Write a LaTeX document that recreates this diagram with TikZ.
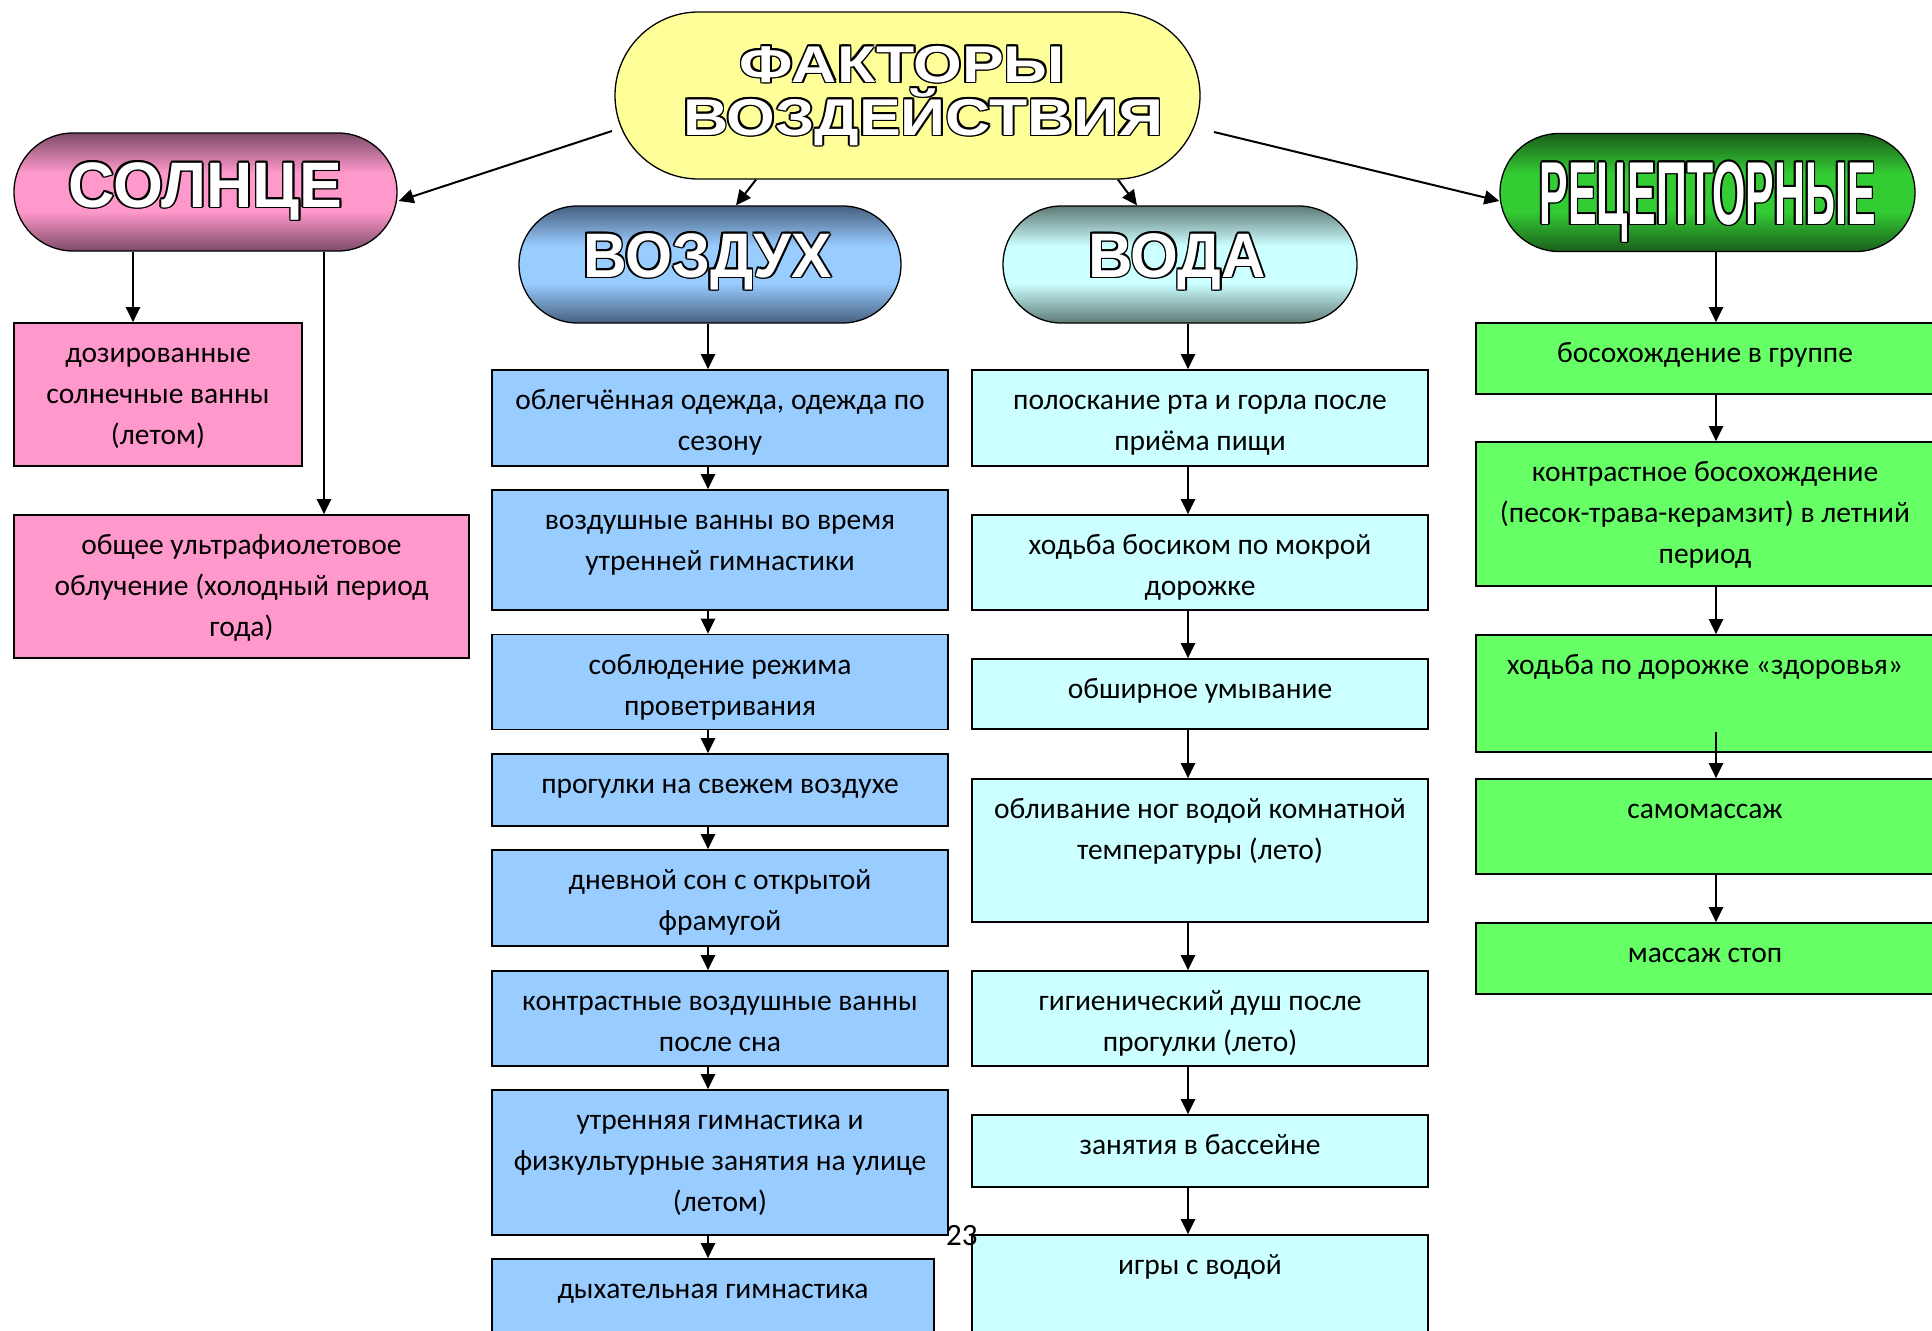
\documentclass[tikz,border=0pt]{standalone}
\usepackage{fontspec}
\usepackage{graphicx}
\setmainfont{Carlito}
\newfontfamily\hfont{Liberation Sans}
\usetikzlibrary{shapes.misc,arrows.meta,calc}

\definecolor{sunD}{HTML}{7E4B69}
\definecolor{sunL}{HTML}{FF99CC}
\definecolor{airD}{HTML}{46607F}
\definecolor{airL}{HTML}{99CCFF}
\definecolor{watD}{HTML}{5E7B77}
\definecolor{watL}{HTML}{CCFFFF}
\definecolor{recD}{HTML}{1B5E1B}
\definecolor{recL}{HTML}{33CC33}
\definecolor{titleC}{HTML}{FFFF99}
\definecolor{pinkB}{HTML}{FF99CC}
\definecolor{blueB}{HTML}{99CCFF}
\definecolor{cyanB}{HTML}{CCFFFF}
\definecolor{greenB}{HTML}{66FF66}

\pgfdeclareverticalshading{sunsh}{100bp}{color(0bp)=(sunD); color(25bp)=(sunD); color(42bp)=(sunL); color(58bp)=(sunL); color(75bp)=(sunD); color(100bp)=(sunD)}
\pgfdeclareverticalshading{airsh}{100bp}{color(0bp)=(airD); color(25bp)=(airD); color(42bp)=(airL); color(58bp)=(airL); color(75bp)=(airD); color(100bp)=(airD)}
\pgfdeclareverticalshading{watsh}{100bp}{color(0bp)=(watD); color(25bp)=(watD); color(42bp)=(watL); color(58bp)=(watL); color(75bp)=(watD); color(100bp)=(watD)}
\pgfdeclareverticalshading{recsh}{100bp}{color(0bp)=(recD); color(25bp)=(recD); color(42bp)=(recL); color(58bp)=(recL); color(75bp)=(recD); color(100bp)=(recD)}

\newcommand\olcp[3]{\rlap{\kern#1\raisebox{#2}{#3}}}
\newcommand\olt[1]{{\color{black}\olcp{1.8pt}{0pt}{#1}\olcp{-1.8pt}{0pt}{#1}\olcp{0pt}{1.8pt}{#1}\olcp{0pt}{-1.8pt}{#1}\olcp{1.3pt}{1.3pt}{#1}\olcp{-1.3pt}{1.3pt}{#1}\olcp{1.3pt}{-1.3pt}{#1}\olcp{-1.3pt}{-1.3pt}{#1}}\textcolor{white}{#1}}
\newcommand\hdr[3]{\olt{\resizebox{#1}{#2}{\raisebox{0pt}[0.716em][0pt]{#3}}}}
\newcommand\tb[1]{\parbox[t]{600pt}{\centering\fontsize{29.5}{41}\selectfont #1}}

\begin{document}
\begin{tikzpicture}[x=1pt,y=-1pt,
  hshape/.style={rounded rectangle, draw=black, line width=1.3pt, inner sep=0pt},
  bx/.style={rectangle, draw=black, line width=1.6pt, inner sep=0pt, minimum width=456pt},
  sunbox/.style={bx, fill=pinkB},
  airbox/.style={bx, fill=blueB},
  watbox/.style={bx, fill=cyanB},
  recbox/.style={bx, fill=greenB, minimum width=458pt},
  txt/.style={anchor=base, inner sep=0pt},
  htxt/.style={anchor=base, inner sep=0pt, font=\hfont\bfseries\fontsize{60}{60}\selectfont},
  arr/.style={line width=2pt, -{Triangle[length=15pt,width=14pt]}}
]
\useasboundingbox (0,0) rectangle (1932,1330);
\fill[white] (0,0) rectangle (1932,1330);

% headers
\node[hshape, fill=titleC, minimum width=585pt, minimum height=167pt] (title) at (907.5,95.5) {};
\node[htxt] (t1) at ($(title.center)+(-5,-13.5)$) {\hdr{325pt}{37pt}{ФАКТОРЫ}};
\node[htxt] (t2) at ($(title.center)+(15.5,39.5)$) {\hdr{480pt}{37pt}{ВОЗДЕЙСТВИЯ}};

\node[hshape, shading=sunsh, minimum width=383pt, minimum height=118pt] (sun) at (205.5,192) {};
\node[htxt] (sunt) at ($(sun.center)+(0,15)$) {\hdr{274pt}{46pt}{СОЛНЦЕ}};

\node[hshape, shading=airsh, minimum width=382pt, minimum height=117pt] (air) at (710,264.5) {};
\node[htxt] (airt) at ($(air.center)+(-2.5,12.5)$) {\hdr{249pt}{45pt}{ВОЗДУХ}};

\node[hshape, shading=watsh, minimum width=354pt, minimum height=117pt] (wat) at (1180,264.5) {};
\node[htxt] (watt) at ($(wat.center)+(-3,12.5)$) {\hdr{178pt}{45pt}{ВОДА}};

\node[hshape, shading=recsh, minimum width=415pt, minimum height=118pt] (rec) at (1707.5,192.5) {};
\node[htxt] (rect) at ($(rec.center)+(0,31.5)$) {\hdr{336pt}{64pt}{РЕЦЕПТОРНЫЕ}};

% sun boxes
\node[sunbox, minimum width=288pt, minimum height=143pt] (s1) at (158,394.5) {};
\node[txt] (s1t) at ($(s1.north)+(0,40.5)$) {\tb{дозированные\\солнечные ванны\\(летом)}};
\node[sunbox, minimum width=455pt, minimum height=143pt] (s2) at (241.5,586.5) {};
\node[txt] (s2t) at ($(s2.north)+(0,40.5)$) {\tb{общее ультрафиолетовое\\облучение (холодный период\\года)}};

% air boxes
\node[airbox, minimum height=96pt] (b1) at (720,418) {};
\node[txt] (b1t) at ($(b1.north)+(0,40.5)$) {\tb{облегчённая одежда, одежда по\\сезону}};
\node[airbox, minimum height=120pt] (b2) at (720,550) {};
\node[txt] (b2t) at ($(b2.north)+(0,40.5)$) {\tb{воздушные ванны во время\\утренней гимнастики}};
\node[airbox, minimum height=95pt] (b3) at (720,682) {};
\node[txt] (b3t) at ($(b3.north)+(0,40.5)$) {\tb{соблюдение режима\\проветривания}};
\node[airbox, minimum height=72pt] (b4) at (720,790) {};
\node[txt] (b4t) at ($(b4.north)+(0,40.5)$) {\tb{прогулки на свежем воздухе}};
\node[airbox, minimum height=96pt] (b5) at (720,898) {};
\node[txt] (b5t) at ($(b5.north)+(0,40.5)$) {\tb{дневной сон с открытой\\фрамугой}};
\node[airbox, minimum height=95pt] (b6) at (720,1018.5) {};
\node[txt] (b6t) at ($(b6.north)+(0,40.5)$) {\tb{контрастные воздушные ванны\\после сна}};
\node[airbox, minimum height=145pt] (b7) at (720,1162.5) {};
\node[txt] (b7t) at ($(b7.north)+(0,40.5)$) {\tb{утренняя гимнастика и\\физкультурные занятия на улице\\(летом)}};
\node[airbox, minimum width=442pt, minimum height=86pt] (b8) at (713,1302) {};
\node[txt] (b8t) at ($(b8.north)+(0,40.5)$) {\tb{дыхательная гимнастика}};

% water boxes
\node[watbox, minimum height=96pt] (c1) at (1200,418) {};
\node[txt] (c1t) at ($(c1.north)+(0,40.5)$) {\tb{полоскание рта и горла после\\приёма пищи}};
\node[watbox, minimum height=95pt] (c2) at (1200,562.5) {};
\node[txt] (c2t) at ($(c2.north)+(0,40.5)$) {\tb{ходьба босиком по мокрой\\дорожке}};
\node[watbox, minimum height=70pt] (c3) at (1200,694) {};
\node[txt] (c3t) at ($(c3.north)+(0,40.5)$) {\tb{обширное умывание}};
\node[watbox, minimum height=143pt] (c4) at (1200,850.5) {};
\node[txt] (c4t) at ($(c4.north)+(0,40.5)$) {\tb{обливание ног водой комнатной\\температуры (лето)}};
\node[watbox, minimum height=95pt] (c5) at (1200,1018.5) {};
\node[txt] (c5t) at ($(c5.north)+(0,40.5)$) {\tb{гигиенический душ после\\прогулки (лето)}};
\node[watbox, minimum height=72pt] (c6) at (1200,1151) {};
\node[txt] (c6t) at ($(c6.north)+(0,40.5)$) {\tb{занятия в бассейне}};
\node[watbox, minimum height=110pt] (c7) at (1200,1290) {};
\node[txt] (c7t) at ($(c7.north)+(0,40.5)$) {\tb{игры с водой}};

% receptor boxes
\node[recbox, minimum height=71pt] (d1) at (1705,358.5) {};
\node[txt] (d1t) at ($(d1.north)+(0,40.5)$) {\tb{босохождение в группе}};
\node[recbox, minimum height=144pt] (d2) at (1705,514) {};
\node[txt] (d2t) at ($(d2.north)+(0,40.5)$) {\tb{контрастное босохождение\\(песок-трава-керамзит) в летний\\период}};
\node[recbox, minimum height=117pt] (d3) at (1705,693.5) {};
\node[txt] (d3t) at ($(d3.north)+(0,40.5)$) {\tb{ходьба по дорожке «здоровья»}};
\node[recbox, minimum height=95pt] (d4) at (1705,826.5) {};
\node[txt] (d4t) at ($(d4.north)+(0,40.5)$) {\tb{самомассаж}};
\node[recbox, minimum height=71pt] (d5) at (1705,958.5) {};
\node[txt] (d5t) at ($(d5.north)+(0,40.5)$) {\tb{массаж стоп}};

% column x positions
\coordinate (xs1) at (133,0);
\coordinate (xs2) at (324,0);
\coordinate (xa) at (708,0);
\coordinate (xw) at (1188,0);
\coordinate (xr) at (1716,0);

% connectors from title
\draw[arr] ($(title.center)+(-295.5,35.5)$) -- ($(sun.east)+(1,9)$);
\draw[arr] ($(title.south)+(-151.5,0)$) -- ($(air.north)+(26,0)$);
\draw[arr] ($(title.south)+(210.5,0)$) -- ($(wat.north)+(-43,0)$);
\draw[arr] ($(title.center)+(306.5,36.5)$) -- ($(rec.west)+(0,8.5)$);

% sun
\draw[arr] (sun.south -| xs1) -- (s1.north -| xs1);
\draw[arr] (sun.south -| xs2) -- (s2.north -| xs2);

% air
\draw[arr] (air.south -| xa) -- (b1.north -| xa);
\draw[arr] (b1.south -| xa) -- (b2.north -| xa);
\draw[arr] (b2.south -| xa) -- (b3.north -| xa);
\draw[arr] (b3.south -| xa) -- (b4.north -| xa);
\draw[arr] (b4.south -| xa) -- (b5.north -| xa);
\draw[arr] (b5.south -| xa) -- (b6.north -| xa);
\draw[arr] (b6.south -| xa) -- (b7.north -| xa);
\draw[arr] (b7.south -| xa) -- (b8.north -| xa);

% water
\draw[arr] (wat.south -| xw) -- (c1.north -| xw);
\draw[arr] (c1.south -| xw) -- (c2.north -| xw);
\draw[arr] (c2.south -| xw) -- (c3.north -| xw);
\draw[arr] (c3.south -| xw) -- (c4.north -| xw);
\draw[arr] (c4.south -| xw) -- (c5.north -| xw);
\draw[arr] (c5.south -| xw) -- (c6.north -| xw);
\draw[arr] (c6.south -| xw) -- (c7.north -| xw);

% receptor
\draw[arr] (rec.south -| xr) -- (d1.north -| xr);
\draw[arr] (d1.south -| xr) -- (d2.north -| xr);
\draw[arr] (d2.south -| xr) -- (d3.north -| xr);
\draw[arr] ($(d3.south -| xr)+(0,-21)$) -- (d4.north -| xr);
\draw[arr] (d4.south -| xr) -- (d5.north -| xr);

% page number
\node[anchor=base west, inner sep=0pt, font=\fontsize{31}{31}\selectfont] (pg) at (946,1245) {23};
\end{tikzpicture}
\end{document}
